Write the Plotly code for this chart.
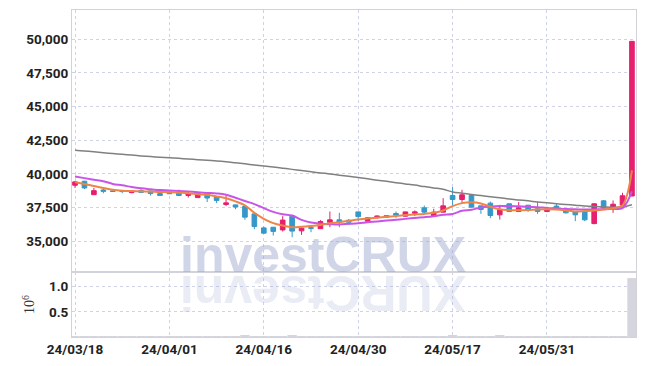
import plotly.graph_objects as go

dates = ["24/03/18","24/03/19","24/03/20","24/03/21","24/03/22","24/03/25","24/03/26","24/03/27","24/03/28","24/03/29",
         "24/04/01","24/04/02","24/04/03","24/04/04","24/04/05","24/04/08","24/04/09","24/04/11","24/04/12","24/04/15",
         "24/04/16","24/04/17","24/04/18","24/04/19","24/04/22","24/04/23","24/04/24","24/04/25","24/04/26","24/04/29",
         "24/04/30","24/05/02","24/05/03","24/05/07","24/05/08","24/05/09","24/05/10","24/05/13","24/05/14","24/05/16",
         "24/05/17","24/05/20","24/05/21","24/05/22","24/05/23","24/05/24","24/05/27","24/05/28","24/05/29","24/05/30",
         "24/05/31","24/06/03","24/06/04","24/06/05","24/06/07","24/06/10","24/06/11","24/06/12","24/06/13","24/06/14"]

opens  = [39150,39450,38450,38800,38730,38760,38600,38750,38730,38530,
          38730,38650,38390,38230,38550,38300,37720,37690,37570,37020,
          35980,36030,35830,36850,35760,36000,35920,36400,36580,36550,
          37170,36480,36800,36900,37050,36850,37070,37470,36850,37150,
          38390,38090,38390,37620,37820,36950,37770,37200,37670,37400,
          37200,37600,37270,37200,37200,36300,37990,37400,37670,38350]
highs  = [39450,39480,38950,38900,38760,38780,38750,38930,38750,38540,
          38760,38830,38650,38560,38560,38310,38380,37720,37580,37030,
          36080,36040,36850,36900,36000,36200,36560,37200,37100,36630,
          37180,36750,36900,36920,37200,37180,37280,37640,37400,38190,
          39010,38810,38480,37630,37940,37690,37780,37900,37680,37900,
          37550,37760,37280,37210,37300,37800,38050,38020,38590,49850]
lows   = [38950,38860,38430,38550,38650,38560,38560,38600,38390,38380,
          38500,38380,38230,38220,37900,37820,37600,37370,36580,35880,
          35560,35410,35710,35290,35460,35660,35900,36030,36030,36200,
          36480,36470,36650,36750,36730,36840,36850,37000,36840,37140,
          37640,37820,37500,37020,36700,36600,37150,37190,37170,37020,
          37150,37340,37050,36480,36480,36250,37440,37100,37660,38340]
closes = [39400,38950,38750,38700,38690,38680,38730,38620,38530,38390,
          38520,38390,38510,38560,38200,38020,37840,37530,36780,36080,
          35590,35720,36560,35740,35960,35950,36450,36580,36400,36400,
          36820,36730,36850,36780,36930,37170,37170,37150,37150,37620,
          38090,38440,37520,37350,36900,37320,37200,37470,37320,37200,
          37400,37350,37100,36950,36580,37770,37450,37740,38370,49850]

ma_short = [39380,39250,39100,38950,38820,38750,38720,38700,38680,38650,
            38640,38600,38560,38480,38440,38320,38180,37950,37650,37100,
            36650,36330,36150,36030,36060,36120,36200,36320,36400,36500,
            36600,36680,36740,36800,36870,36930,36980,37020,37100,37270,
            37600,37820,37880,37800,37550,37360,37300,37290,37310,37350,
            37360,37340,37280,37200,37230,37270,37350,37450,37650,40250]
ma_mid   = [39800,39680,39560,39450,39250,39150,39020,38920,38850,38790,
            38760,38720,38680,38630,38580,38540,38450,38220,37980,37750,
            37450,37170,37000,36900,36580,36380,36290,36250,36230,36280,
            36330,36400,36460,36520,36580,36650,36720,36780,36850,36950,
            37020,37250,37330,37500,37560,37600,37600,37580,37560,37520,
            37460,37420,37380,37360,37340,37350,37370,37400,37450,38700]
ma_long  = [41750,41700,41640,41570,41510,41450,41390,41330,41280,41230,
            41190,41150,41100,41050,41000,40960,40900,40820,40740,40660,
            40580,40500,40420,40330,40240,40150,40070,39990,39900,39820,
            39730,39630,39530,39440,39340,39250,39160,39050,38950,38850,
            38650,38560,38470,38380,38300,38220,38130,38060,37990,37910,
            37840,37780,37720,37670,37610,37570,37540,37520,37540,37700]

volume_m = [0.006,0.005,0.007,0.004,0.003,0.004,0.003,0.005,0.004,0.004,
            0.005,0.004,0.004,0.006,0.005,0.005,0.006,0.005,0.022,0.008,
            0.009,0.007,0.010,0.020,0.006,0.005,0.007,0.008,0.006,0.005,
            0.006,0.005,0.004,0.004,0.005,0.006,0.005,0.006,0.005,0.009,
            0.020,0.010,0.009,0.007,0.008,0.020,0.006,0.007,0.005,0.005,
            0.005,0.005,0.004,0.006,0.007,0.012,0.008,0.006,0.010,1.170]

tick_dates = ["24/03/18", "24/04/01", "24/04/16", "24/04/30", "24/05/17", "24/05/31"]
price_ticks = [35000, 37500, 40000, 42500, 45000, 47500, 50000]
vol_ticks = [0.5, 1.0]

RED = "#e61f6e"
BLUE = "#3598c8"
GRID = "#d0d2e6"
FRAME = "#d2d2da"
TICKFONT = dict(family="Roboto, Liberation Sans Narrow, sans-serif", size=13.5, color="#222222", weight="bold")

fig = go.Figure()
fig.add_trace(go.Bar(x=dates, y=volume_m, marker=dict(color="#d5d5dd", line=dict(width=0)),
                     xaxis="x", yaxis="y", showlegend=False, hoverinfo="skip"))
fig.add_trace(go.Candlestick(x=dates, open=opens, high=highs, low=lows, close=closes,
                             increasing=dict(line=dict(color=RED, width=1), fillcolor=RED),
                             decreasing=dict(line=dict(color=BLUE, width=1), fillcolor=BLUE),
                             whiskerwidth=0, xaxis="x", yaxis="y2", showlegend=False))
fig.add_trace(go.Scatter(x=dates, y=ma_long, mode="lines", line=dict(color="#808080", width=1.5, shape="spline"),
                         xaxis="x", yaxis="y2", showlegend=False))
fig.add_trace(go.Scatter(x=dates, y=ma_mid, mode="lines", line=dict(color="#c955e8", width=2, shape="spline"),
                         xaxis="x", yaxis="y2", showlegend=False))
fig.add_trace(go.Scatter(x=dates, y=ma_short, mode="lines", line=dict(color="#ee8548", width=2, shape="spline"),
                         xaxis="x", yaxis="y2", showlegend=False))

split = 65 / 327

fig.update_layout(
    width=637, height=358,
    margin=dict(l=64, r=9, t=2, b=29, autoexpand=False),
    paper_bgcolor="white", plot_bgcolor="white",
    showlegend=False,
    bargap=0.02,
    xaxis=dict(type="category", domain=[0, 1], anchor="y", range=[-0.32, 59.43], automargin=False,
               tickmode="array", tickvals=tick_dates, ticktext=tick_dates,
               showgrid=True, gridcolor=GRID, griddash="dot", gridwidth=1,
               showline=True, linecolor=FRAME, linewidth=1, mirror="all",
               ticks="", tickfont=TICKFONT, rangeslider=dict(visible=False), zeroline=False),
    yaxis=dict(domain=[0, split], anchor="x", range=[0, 1.29], automargin=False,
               tickmode="array", tickvals=vol_ticks, ticktext=["0.5", "1.0"],
               showgrid=True, gridcolor=GRID, griddash="dot", gridwidth=1,
               showline=True, linecolor=FRAME, linewidth=1, mirror=True,
               ticks="", tickfont=TICKFONT, zeroline=False,
               title=dict(text="10<sup>6</sup>", font=dict(family="Liberation Serif, DejaVu Serif, serif", size=14, color="#333333"),
                          standoff=10)),
    yaxis2=dict(domain=[split, 1], anchor="x", range=[32700, 52180], automargin=False,
                tickmode="array", tickvals=price_ticks, tickformat=",",
                showgrid=True, gridcolor=GRID, griddash="dot", gridwidth=1,
                showline=True, linecolor=FRAME, linewidth=1, mirror=True,
                ticks="", tickfont=TICKFONT, zeroline=False),
    annotations=[
        dict(text="investCRUX", xref="paper", yref="paper", x=0.445, y=0.252, xanchor="center", yanchor="middle",
             showarrow=False, font=dict(family="Liberation Sans, Arial, sans-serif", size=50, color="rgba(150,162,205,0.45)",
                                        weight="bold")),
        dict(text="XURCtsevni", xref="paper", yref="paper", x=0.445, y=0.133, xanchor="center", yanchor="middle",
             textangle=180, showarrow=False,
             font=dict(family="Liberation Sans, Arial, sans-serif", size=50, color="rgba(150,162,205,0.2)",
                       weight="bold")),
    ],
)

fig.write_html("out.html")
